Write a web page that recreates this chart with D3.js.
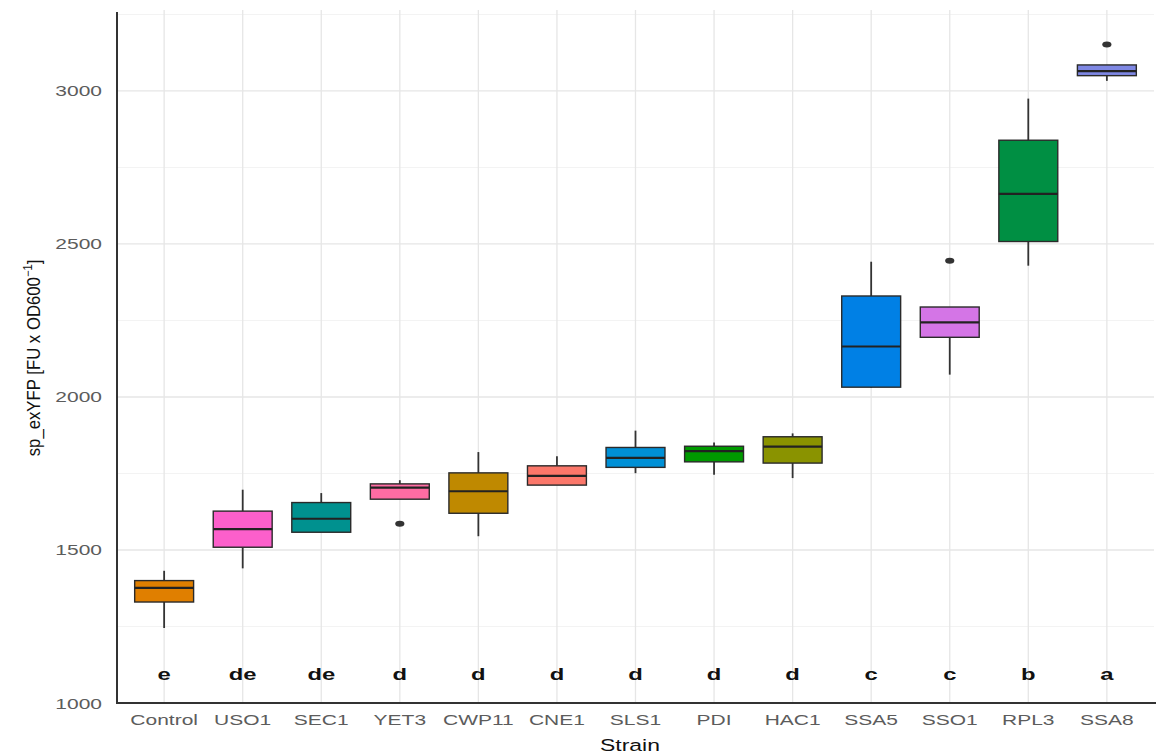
<!DOCTYPE html>
<html>
<head>
<meta charset="utf-8">
<script src="https://cdn.jsdelivr.net/npm/d3@7"></script>
<style>
  html, body { margin: 0; padding: 0; background: #fff; }
  svg { display: block; font-family: "Liberation Sans", Arial, sans-serif; }
</style>
</head>
<body>
<svg id="chart" width="1156" height="754"></svg>
<script>
// Strains along the x axis
const strains = ["Control", "USO1", "SEC1", "YET3", "CWP11", "CNE1", "SLS1", "PDI", "HAC1", "SSA5", "SSO1", "RPL3", "SSA8"];
// Box fill colours per strain
const fills = ["#E07F00", "#FC5FCB", "#00918F", "#FF6CA3", "#BF8900", "#FB776A", "#0090D6", "#009A00", "#8A9300", "#0080E5", "#D475E6", "#008F43", "#7E87E3"];
// Five-number summaries (sp_exYFP, FU x OD600^-1)
const whiskerLow  = [1245, 1440, 1558, 1666, 1545, 1712, 1751, 1746, 1735, 2030, 2073, 2429, 3033];
const q1          = [1330, 1509, 1558, 1666, 1620, 1712, 1770, 1788, 1784, 2032, 2195, 2508, 3050];
const medians     = [1376, 1568, 1602, 1704, 1692, 1742, 1801, 1823, 1838, 2165, 2244, 2664, 3065];
const q3          = [1400, 1627, 1655, 1716, 1752, 1775, 1835, 1839, 1870, 2330, 2294, 2839, 3085];
const whiskerHigh = [1432, 1697, 1686, 1728, 1820, 1806, 1890, 1851, 1881, 2442, 2294, 2975, 3085];
// Outlying observations: [strain, value]
const outliers = [["YET3", 1586], ["SSO1", 2445], ["SSA8", 3152]];
// Significance group letters
const groups = ["e", "de", "de", "d", "d", "d", "d", "d", "d", "c", "c", "b", "a"];
const letterLevel = 1100;
// Axis ticks
const yMajor = [1000, 1500, 2000, 2500, 3000];
const yMinor = [1250, 1750, 2250, 2750, 3250];

const svg = d3.select("#chart");
const plotLeft = 117, plotRight = 1154, plotTop = 12, plotBottom = 703;
const stretch = 1.4; // horizontal widening of the horizontal text

const x = d3.scalePoint().domain(strains).range([plotLeft, plotRight]).padding(0.6);
const y = d3.scaleLinear().domain([1000, 3258]).range([plotBottom, plotTop]);
const boxW = x.step() * 0.75;

const data = strains.map((s, i) => ({
  s, fill: fills[i], lo: whiskerLow[i], q1: q1[i], med: medians[i], q3: q3[i], hi: whiskerHigh[i], g: groups[i]
}));

// Grid
const grid = svg.append("g");
grid.selectAll("line.minor").data(yMinor).join("line")
  .attr("x1", plotLeft).attr("x2", plotRight).attr("y1", d => y(d)).attr("y2", d => y(d))
  .attr("stroke", "#f3f3f3").attr("stroke-width", 1);
grid.selectAll("line.major").data(yMajor).join("line")
  .attr("x1", plotLeft).attr("x2", plotRight).attr("y1", d => y(d)).attr("y2", d => y(d))
  .attr("stroke", "#e6e6e6").attr("stroke-width", 1.3);
grid.selectAll("line.vert").data(strains).join("line")
  .attr("x1", d => x(d)).attr("x2", d => x(d)).attr("y1", plotTop - 2).attr("y2", plotBottom)
  .attr("stroke", "#e6e6e6").attr("stroke-width", 1.3);

// Boxes
const boxes = svg.append("g").selectAll("g").data(data).join("g");
boxes.append("line")
  .attr("x1", d => x(d.s)).attr("x2", d => x(d.s))
  .attr("y1", d => y(d.hi)).attr("y2", d => y(d.q3))
  .attr("stroke", "#333").attr("stroke-width", 1.8);
boxes.append("line")
  .attr("x1", d => x(d.s)).attr("x2", d => x(d.s))
  .attr("y1", d => y(d.q1)).attr("y2", d => y(d.lo))
  .attr("stroke", "#333").attr("stroke-width", 1.8);
boxes.append("rect")
  .attr("x", d => x(d.s) - boxW / 2).attr("width", boxW)
  .attr("y", d => y(d.q3)).attr("height", d => y(d.q1) - y(d.q3))
  .attr("fill", d => d.fill).attr("stroke", "#2a2a2a").attr("stroke-width", 1.4);
boxes.append("line")
  .attr("x1", d => x(d.s) - boxW / 2).attr("x2", d => x(d.s) + boxW / 2)
  .attr("y1", d => y(d.med)).attr("y2", d => y(d.med))
  .attr("stroke", "#222").attr("stroke-width", 2.2);

// Outliers
svg.append("g").selectAll("ellipse").data(outliers).join("ellipse")
  .attr("cx", d => x(d[0])).attr("cy", d => y(d[1]))
  .attr("rx", 4.6).attr("ry", 3).attr("fill", "#333");

// Group letters
svg.append("g").selectAll("text").data(data).join("text")
  .attr("transform", d => `translate(${x(d.s)},${y(letterLevel) + 8}) scale(${stretch},1)`)
  .attr("text-anchor", "middle").attr("font-weight", "bold").attr("font-size", 17)
  .attr("fill", "#111").text(d => d.g);

// Axis lines
svg.append("line").attr("x1", plotLeft).attr("x2", plotLeft).attr("y1", plotTop).attr("y2", plotBottom + 1)
  .attr("stroke", "#333").attr("stroke-width", 2);
svg.append("line").attr("x1", plotLeft - 1).attr("x2", 1156).attr("y1", plotBottom).attr("y2", plotBottom)
  .attr("stroke", "#333").attr("stroke-width", 2);

// Y tick labels
svg.append("g").selectAll("text").data(yMajor).join("text")
  .attr("transform", d => `translate(102,${y(d) + 5.5}) scale(${stretch},1)`)
  .attr("text-anchor", "end").attr("font-size", 15).attr("fill", "#5c5c5c")
  .text(d => d);

// X tick labels
svg.append("g").selectAll("text").data(strains).join("text")
  .attr("transform", d => `translate(${x(d)},725) scale(${stretch},1)`)
  .attr("text-anchor", "middle").attr("font-size", 15).attr("fill", "#5c5c5c")
  .text(d => d);

// Axis titles
svg.append("text")
  .attr("transform", `translate(630,751) scale(${stretch - 0.05},1)`)
  .attr("text-anchor", "middle").attr("font-size", 17).attr("fill", "#111")
  .text("Strain");

const yt = svg.append("text")
  .attr("transform", `translate(40,358) rotate(-90) scale(0.93,1)`)
  .attr("text-anchor", "middle").attr("font-size", 18).attr("fill", "#111");
yt.append("tspan").text("sp_exYFP [FU x OD600");
yt.append("tspan").attr("font-size", 12).attr("dy", -8).text("−1");
yt.append("tspan").attr("dy", 8).text("]");
</script>
</body>
</html>
